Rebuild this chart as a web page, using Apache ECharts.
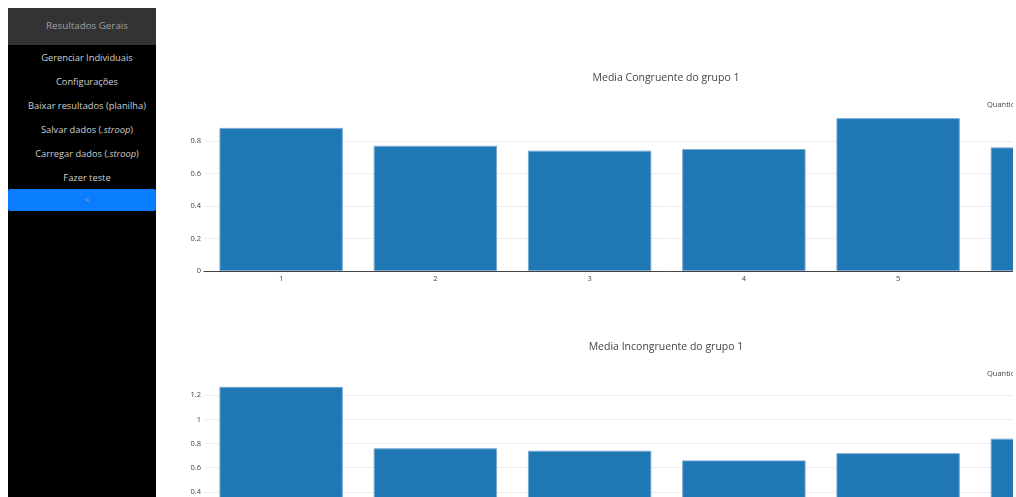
<!DOCTYPE html>
<html>
<head>
<meta charset="utf-8">
<script src="https://cdn.jsdelivr.net/npm/echarts@6/dist/echarts.min.js"></script>
<style>
  html, body { margin: 0; padding: 0; width: 1016px; height: 497px; overflow: hidden; background: #fff; font-family: "Open Sans", sans-serif; }
  #sidebar { position: absolute; left: 8px; top: 8px; width: 148px; height: 489px; background: #000; }
  #sidebar .hdr { height: 37px; line-height: 36px; background: #333; color: #a0a0a0; font-size: 9.8px; text-align: center; padding-left: 10px; }
  #sidebar .item { height: 24px; line-height: 26px; color: #cfcfcf; font-size: 9.3px; text-align: center; white-space: nowrap; padding-left: 10px; }
  #sidebar .btn { height: 22px; line-height: 22px; background: #0a7dff; color: #8fa6c4; font-size: 9px; text-align: center; border-radius: 2px; padding-left: 10px; }
  #wrap { position: absolute; left: 160px; top: 0; width: 853px; height: 497px; overflow: hidden; }
  .chart { position: absolute; left: 0; width: 1012px; height: 300px; }
</style>
</head>
<body>
<div id="sidebar">
  <div class="hdr">Resultados Gerais</div>
  <div class="item">Gerenciar Individuais</div>
  <div class="item">Configurações</div>
  <div class="item">Baixar resultados (planilha)</div>
  <div class="item">Salvar dados (<i>.stroop</i>)</div>
  <div class="item">Carregar dados (<i>.stroop</i>)</div>
  <div class="item">Fazer teste</div>
  <div class="btn">&lt;</div>
</div>
<div id="wrap">
  <div id="c1" class="chart" style="top:0px"></div>
  <div id="c2" class="chart" style="top:269px"></div>
</div>
<script>
const categories = ['1', '2', '3', '4', '5', '6'];
const mediaCongruente = [0.88, 0.77, 0.74, 0.75, 0.94, 0.76];
const mediaIncongruente = [1.27, 0.76, 0.74, 0.66, 0.72, 0.84];
const titles = ['Media Congruente do grupo 1', 'Media Incongruente do grupo 1'];
const legendName = 'Quantidade';
const yMax = [0.99, 1.335];

function makeOption(title, values, max) {
  return {
    animation: false,
    title: {
      text: title, left: 'center', top: 68,
      textStyle: { fontFamily: 'Open Sans', fontSize: 10.5, fontWeight: 'normal', color: '#444' }
    },
    legend: {
      left: 816, top: 96, icon: 'rect', itemWidth: 0, itemHeight: 0, itemGap: 0,
      selectedMode: false,
      textStyle: { fontFamily: 'Open Sans', fontSize: 7.5, color: '#444' }
    },
    grid: { left: 44, top: 110, width: 925.5, height: 161, containLabel: false, outerBoundsMode: 'none' },
    xAxis: {
      type: 'category', data: categories,
      axisLine: { lineStyle: { color: '#444', width: 1 } },
      axisTick: { show: false },
      axisLabel: { fontFamily: 'Open Sans', fontSize: 7.5, color: '#444', margin: 4 }
    },
    yAxis: {
      type: 'value', min: 0, max: max, interval: 0.2,
      axisLine: { show: false }, axisTick: { show: false },
      axisLabel: {
        fontFamily: 'Open Sans', fontSize: 7.5, color: '#444', margin: 3,
        showMaxLabel: false,
        formatter: v => (Math.abs(v * 5 - Math.round(v * 5)) < 1e-6 ? String(+v.toFixed(1)) : '')
      },
      splitLine: { show: true, showMinLine: false, showMaxLine: false, lineStyle: { color: '#eeeeee', width: 1 } }
    },
    series: [{
      name: legendName, type: 'bar', data: values, barCategoryGap: '20%',
      itemStyle: { color: '#1f77b4', borderColor: '#7aaad3', borderWidth: 1 }
    }]
  };
}

const c1 = echarts.init(document.getElementById('c1'), null, { renderer: 'canvas' });
c1.setOption(makeOption(titles[0], mediaCongruente, yMax[0]));
const c2 = echarts.init(document.getElementById('c2'), null, { renderer: 'canvas' });
c2.setOption(makeOption(titles[1], mediaIncongruente, yMax[1]));
</script>
</body>
</html>
